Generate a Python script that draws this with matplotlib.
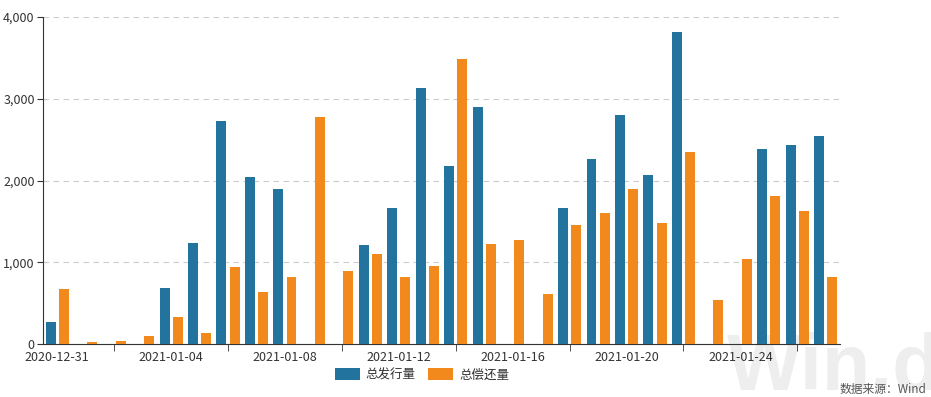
import matplotlib.pyplot as plt
import numpy as np
import pandas as pd

plt.rcParams['font.family'] = ['Noto Sans CJK SC', 'DejaVu Sans']

dates = pd.date_range('2020-12-31', '2021-01-27').strftime('%Y-%m-%d').tolist()
issue = [265, 0, 0, 0, 680, 1230, 2728, 2039, 1896, 0, 0, 1211, 1664, 3128,
         2177, 2895, 0, 0, 1664, 2259, 2797, 2067, 3813, 0, 0, 2385, 2434, 2548]
repay = [677, 25, 35, 100, 335, 135, 938, 640, 824, 2777, 897, 1101, 816, 954,
         3482, 1219, 1272, 608, 1456, 1599, 1896, 1484, 2349, 538, 1036, 1810, 1623, 824]
names = ['总发行量', '总偿还量']
colors = ['#23739f', '#f2891d']

fig = plt.figure(figsize=(9.31, 3.97), dpi=100)
ax = fig.add_axes([43 / 931, 53 / 397, 797 / 931, 327 / 397])

# watermark
fig.text(727 / 931, 1 - 390 / 397, 'Win.d', fontsize=57, fontweight='bold', color='#eeeeee',
         family='Liberation Sans', ha='left', va='baseline', zorder=0)
ax.set_zorder(1)
ax.patch.set_alpha(0)

x = np.arange(len(dates))
w = 0.35
ax.bar(x - 0.23, issue, w, color=colors[0], label=names[0], zorder=3)
ax.bar(x + 0.23, repay, w, color=colors[1], label=names[1], zorder=3)

ax.set_xlim(-0.5, len(dates) - 0.5)
ax.set_ylim(0, 4000)
ax.set_yticks([0, 1000, 2000, 3000, 4000])
ax.set_yticklabels(['0', '1,000', '2,000', '3,000', '4,000'])
ax.yaxis.grid(True, linestyle=(0, (5, 4)), color='#cccccc', linewidth=0.8)
ax.set_axisbelow(True)

ax.set_xticks(x[::4])
ax.set_xticklabels(dates[::4])
ax.set_xticks(x[2::4], minor=True)
ax.tick_params(axis='x', which='major', length=0, pad=5, labelsize=9, labelcolor='#333333')
ax.tick_params(axis='x', which='minor', length=5, color='#333333')
ax.tick_params(axis='y', length=4, color='#333333', labelsize=9, labelcolor='#333333', pad=2)

for s in ['top', 'right']:
    ax.spines[s].set_visible(False)
for s in ['left', 'bottom']:
    ax.spines[s].set_color('#333333')

leg = fig.legend(loc='center', bbox_to_anchor=(422 / 931, 1 - 375 / 397), ncol=2,
                 frameon=False, fontsize=9, handlelength=2.0, handleheight=1.1,
                 columnspacing=1.0, handletextpad=0.5)
for t in leg.get_texts():
    t.set_color('#333333')

fig.text(926 / 931, 1 - 389 / 397, '数据来源：Wind', fontsize=8.5, color='#555555',
         ha='right', va='center')

fig.savefig('out.png', dpi=100)
